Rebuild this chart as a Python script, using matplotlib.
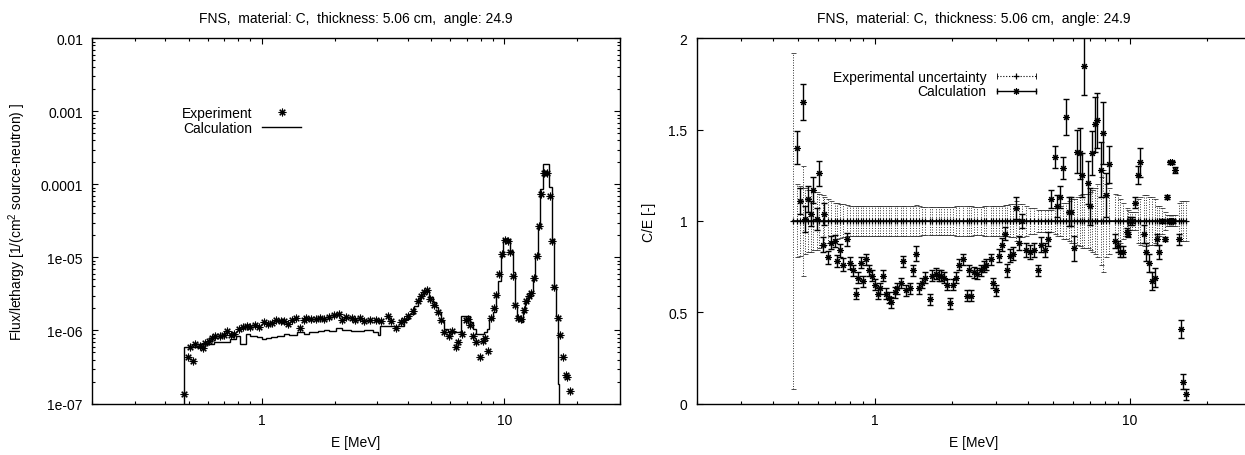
import matplotlib
matplotlib.use("Agg")
import matplotlib.pyplot as plt
import numpy as np
from matplotlib.lines import Line2D
from matplotlib.legend_handler import HandlerLine2D, HandlerTuple
from matplotlib.ticker import FixedLocator, LogLocator, NullFormatter

# ---- data ----
title = "FNS,  material: C,  thickness: 5.06 cm,  angle: 24.9"

# left panel: measured flux/lethargy (asterisks)
exp_e = [0.480, 0.497, 0.505, 0.520, 0.534, 0.556, 0.574, 0.587, 0.605, 0.625,
         0.645, 0.677, 0.699, 0.722, 0.751, 0.773, 0.806, 0.840, 0.873, 0.900,
         0.935, 0.975, 1.02, 1.06, 1.107, 1.15, 1.20, 1.24, 1.28, 1.33,
         1.38, 1.44, 1.49, 1.53, 1.60, 1.67, 1.74, 1.80, 1.90, 1.98,
         2.09, 2.15, 2.22, 2.35, 2.42, 2.55, 2.65, 2.80, 2.95, 3.10,
         3.31, 3.40, 3.58, 3.75, 3.87, 4.03, 4.20, 4.40, 4.54, 4.69,
         4.81, 4.96, 5.15, 5.35, 5.49, 5.67, 5.94, 6.08, 6.34, 6.44,
         6.69, 6.97, 7.12, 7.26, 7.45, 7.66, 7.98, 8.17, 8.34, 8.61,
         8.84, 9.07, 9.27, 9.51, 9.78, 10.1, 10.4, 10.6, 10.9, 11.1,
         11.4, 11.7, 12.1, 12.3, 12.6, 12.9, 13.3, 13.6, 13.9, 14.2,
         14.6, 15.0, 15.4, 15.7, 16.1, 16.6, 17.0, 17.5, 17.9, 18.2, 18.7]
exp_flux = [1.35e-7, 4.3e-7, 6.0e-7, 3.85e-7, 6.5e-7, 6.1e-7, 5.7e-7, 6.7e-7, 7.2e-7, 7.8e-7,
            8.3e-7, 8.5e-7, 8.7e-7, 9.9e-7, 8.7e-7, 9.0e-7, 1.05e-6, 1.10e-6, 1.16e-6, 1.13e-6,
            1.18e-6, 1.13e-6, 1.30e-6, 1.23e-6, 1.27e-6, 1.40e-6, 1.34e-6, 1.36e-6, 1.23e-6, 1.38e-6,
            1.48e-6, 1.07e-6, 1.37e-6, 1.49e-6, 1.45e-6, 1.42e-6, 1.48e-6, 1.42e-6, 1.53e-6, 1.62e-6,
            1.68e-6, 1.40e-6, 1.55e-6, 1.50e-6, 1.38e-6, 1.50e-6, 1.33e-6, 1.38e-6, 1.40e-6, 1.33e-6,
            1.59e-6, 1.33e-6, 1.07e-6, 1.32e-6, 1.37e-6, 1.59e-6, 1.86e-6, 2.55e-6, 3.0e-6, 3.4e-6,
            3.6e-6, 2.7e-6, 2.23e-6, 1.80e-6, 1.37e-6, 9.4e-7, 8.3e-7, 9.7e-7, 6.0e-7, 7.0e-7,
            8.9e-7, 1.41e-6, 1.43e-6, 1.17e-6, 8.4e-7, 6.9e-7, 4.4e-7, 7.2e-7, 7.8e-7, 5.2e-7,
            1.5e-6, 2.0e-6, 3.06e-6, 5.9e-6, 1.1e-5, 1.75e-5, 1.7e-5, 1.2e-5, 5.6e-6, 2.23e-6,
            1.47e-6, 1.45e-6, 1.93e-6, 2.55e-6, 3.0e-6, 3.3e-6, 5.3e-6, 1.05e-5, 2.67e-5, 7.4e-5,
            1.43e-4, 1.43e-4, 7.0e-5, 1.7e-5, 3.9e-6, 1.5e-6, 8.6e-7, 4.4e-7, 2.45e-7, 2.3e-7, 1.5e-7]

# left panel: calculated histogram (bin edges and values)
calc_edges = [0.477, 0.55, 0.635, 0.744, 0.781, 0.814, 0.859, 0.90, 0.96, 1.007,
              1.04, 1.09, 1.16, 1.24, 1.30, 1.40, 1.50, 1.57, 1.70, 1.81,
              1.90, 2.02, 2.15, 2.33, 2.65, 2.87, 3.01, 3.08, 3.87, 4.06,
              4.26, 4.40, 4.51, 4.65, 4.76, 4.91, 5.07, 5.23, 5.35, 5.49,
              5.63, 5.85, 6.43, 6.63, 7.26, 7.41, 7.66, 8.28, 8.50, 8.69,
              8.98, 9.27, 9.47, 9.66, 9.91, 10.52, 10.86, 11.03, 11.29, 11.73,
              11.90, 12.20, 12.50, 12.84, 13.11, 13.39, 13.74, 14.06, 14.38, 15.30,
              15.75, 16.05, 16.40, 16.60, 16.84]
calc_flux = [5.9e-7, 6.5e-7, 6.9e-7, 7.6e-7, 8.3e-7, 6.5e-7, 8.95e-7, 8.3e-7, 8.05e-7, 7.6e-7,
             7.8e-7, 8.05e-7, 8.3e-7, 8.95e-7, 8.6e-7, 9.4e-7, 8.95e-7, 9.6e-7, 9.9e-7, 1.01e-6,
             9.9e-7, 1.07e-6, 1.02e-6, 9.9e-7, 1.02e-6, 9.6e-7, 8.6e-7, 1.16e-6, 1.43e-6, 1.68e-6,
             2.18e-6, 2.55e-6, 2.99e-6, 3.33e-6, 3.5e-6, 2.85e-6, 2.43e-6, 2.07e-6, 1.77e-6, 1.36e-6,
             1.05e-6, 9.4e-7, 9.4e-7, 1.59e-6, 1.29e-6, 1.05e-6, 8.95e-7, 9.4e-7, 1.05e-6, 1.43e-6,
             1.77e-6, 2.99e-6, 4.8e-6, 1.05e-5, 1.79e-5, 1.24e-5, 6.25e-6, 2.18e-6, 1.43e-6, 1.32e-6,
             1.77e-6, 2.43e-6, 2.85e-6, 3.33e-6, 5.1e-6, 1.05e-5, 2.7e-5, 8.6e-5, 1.9e-4, 9.1e-5,
             1.79e-5, 3.9e-6, 1.59e-6, 1.85e-7]

# right panel: C/E ratio, its error, and the experimental uncertainty
ce_e = [0.480, 0.494, 0.509, 0.523, 0.533, 0.548, 0.561, 0.575, 0.592, 0.605,
        0.624, 0.633, 0.656, 0.676, 0.699, 0.714, 0.731, 0.753, 0.777, 0.800,
        0.818, 0.842, 0.863, 0.881, 0.903, 0.927, 0.950, 0.979, 1.000, 1.030,
        1.049, 1.082, 1.105, 1.138, 1.162, 1.199, 1.227, 1.264, 1.291, 1.324,
        1.375, 1.413, 1.457, 1.491, 1.537, 1.575, 1.647, 1.683, 1.734, 1.786,
        1.826, 1.868, 1.915, 1.973, 2.034, 2.083, 2.140, 2.209, 2.290, 2.345,
        2.380, 2.450, 2.520, 2.610, 2.690, 2.730, 2.850, 2.920, 3.000, 3.080,
        3.160, 3.240, 3.290, 3.390, 3.490, 3.570, 3.670, 3.780, 3.910, 4.060,
        4.210, 4.350, 4.480, 4.660, 4.780, 4.930, 5.080, 5.200, 5.320, 5.480,
        5.620, 5.780, 5.900, 6.040, 6.190, 6.360, 6.470, 6.630, 6.830, 6.990,
        7.140, 7.310, 7.460, 7.690, 7.870, 8.060, 8.280, 8.760, 8.960, 9.190,
        9.420, 9.780, 9.850, 10.03, 10.19, 10.47, 10.74, 11.00, 11.35, 11.60,
        11.85, 12.22, 12.50, 12.79, 13.05, 13.42, 13.75, 14.00, 14.20, 14.41,
        14.50, 14.70, 14.80, 15.05, 15.60, 15.90, 16.20, 16.60]
ce = [4.37, 1.40, 1.11, 1.65, 1.01, 1.12, 1.04, 1.17, 1.01, 1.26,
      0.87, 1.04, 0.80, 0.88, 0.89, 0.78, 0.84, 0.76, 0.90, 0.77,
      0.73, 0.60, 0.69, 0.77, 0.67, 0.79, 0.73, 0.70, 0.65, 0.60,
      0.63, 0.70, 0.60, 0.58, 0.555, 0.61, 0.63, 0.66, 0.78, 0.62,
      0.63, 0.73, 0.82, 0.63, 0.66, 0.69, 0.57, 0.70, 0.71, 0.70,
      0.70, 0.69, 0.65, 0.55, 0.65, 0.69, 0.76, 0.79, 0.59, 0.73,
      0.59, 0.72, 0.71, 0.73, 0.75, 0.76, 0.79, 0.66, 0.62, 0.81,
      0.87, 0.93, 0.73, 0.81, 0.82, 1.07, 0.88, 1.00, 0.84, 0.83,
      0.84, 0.73, 0.87, 0.84, 0.90, 1.12, 1.35, 1.08, 1.13, 1.29,
      1.57, 1.05, 1.05, 0.85, 1.38, 1.37, 1.25, 1.85, 1.21, 1.08,
      1.37, 1.53, 1.55, 1.28, 1.48, 1.14, 1.31, 0.89, 0.86, 0.83,
      0.83, 0.94, 0.93, 1.00, 1.00, 1.10, 1.25, 1.32, 0.93, 0.83,
      0.77, 0.67, 0.69, 0.90, 0.83, 1.00, 0.90, 1.13, 1.00, 1.32,
      1.00, 1.32, 1.00, 1.28, 0.90, 0.41, 0.12, 0.05]
ce_err = [0.30, 0.09, 0.07, 0.10, 0.07, 0.07, 0.07, 0.07, 0.06, 0.07,
          0.04, 0.06, 0.035, 0.035, 0.035, 0.035, 0.035, 0.035, 0.035, 0.035,
          0.03, 0.03, 0.03, 0.03, 0.03, 0.03, 0.03, 0.03, 0.03, 0.03,
          0.03, 0.03, 0.03, 0.03, 0.03, 0.03, 0.03, 0.03, 0.03, 0.03,
          0.03, 0.03, 0.04, 0.03, 0.03, 0.03, 0.03, 0.03, 0.03, 0.03,
          0.03, 0.03, 0.03, 0.03, 0.03, 0.03, 0.03, 0.03, 0.03, 0.03,
          0.03, 0.03, 0.03, 0.03, 0.03, 0.03, 0.03, 0.03, 0.03, 0.035,
          0.035, 0.035, 0.035, 0.035, 0.035, 0.06, 0.04, 0.04, 0.04, 0.04,
          0.04, 0.03, 0.04, 0.04, 0.04, 0.05, 0.06, 0.06, 0.06, 0.06,
          0.10, 0.08, 0.08, 0.07, 0.12, 0.14, 0.12, 0.16, 0.12, 0.10,
          0.12, 0.15, 0.15, 0.15, 0.17, 0.12, 0.10, 0.04, 0.03, 0.03,
          0.03, 0.02, 0.02, 0.02, 0.02, 0.03, 0.05, 0.08, 0.05, 0.05,
          0.05, 0.05, 0.05, 0.03, 0.04, 0.01, 0.01, 0.01, 0.01, 0.01,
          0.01, 0.01, 0.01, 0.015, 0.03, 0.05, 0.04, 0.03]
unc = [0.92, 0.20, 0.19, 0.30, 0.18, 0.17, 0.17, 0.16, 0.16, 0.15,
       0.14, 0.13, 0.12, 0.11, 0.10, 0.10, 0.095, 0.09, 0.085, 0.08,
       0.08, 0.08, 0.08, 0.08, 0.08, 0.08, 0.08, 0.08, 0.08, 0.08,
       0.08, 0.08, 0.08, 0.08, 0.08, 0.08, 0.08, 0.08, 0.08, 0.08,
       0.08, 0.08, 0.085, 0.08, 0.075, 0.075, 0.075, 0.075, 0.075, 0.075,
       0.075, 0.075, 0.075, 0.075, 0.075, 0.08, 0.08, 0.08, 0.08, 0.08,
       0.08, 0.075, 0.075, 0.075, 0.08, 0.08, 0.08, 0.08, 0.08, 0.08,
       0.08, 0.085, 0.085, 0.09, 0.09, 0.11, 0.09, 0.09, 0.08, 0.07,
       0.07, 0.06, 0.06, 0.06, 0.06, 0.06, 0.07, 0.08, 0.08, 0.10,
       0.10, 0.11, 0.12, 0.12, 0.13, 0.14, 0.15, 0.15, 0.15, 0.16,
       0.17, 0.18, 0.20, 0.24, 0.28, 0.20, 0.18, 0.15, 0.14, 0.12,
       0.10, 0.07, 0.06, 0.05, 0.05, 0.05, 0.12, 0.13, 0.14, 0.14,
       0.13, 0.13, 0.12, 0.08, 0.08, 0.07, 0.05, 0.03, 0.03, 0.03,
       0.03, 0.03, 0.03, 0.03, 0.10, 0.11, 0.11, 0.11]

e_ticks = [1, 10]
e_tick_labels = ["1", "10"]
flux_ticks = [1e-7, 1e-6, 1e-5, 1e-4, 1e-3, 1e-2]
flux_tick_labels = ["1e-07", "1e-06", "1e-05", "0.0001", "0.001", "0.01"]
ce_ticks = [0, 0.5, 1, 1.5, 2]
ce_tick_labels = ["0", "0.5", "1", "1.5", "2"]

# ---- style ----
plt.rcParams['font.family'] = ['Liberation Sans', 'DejaVu Sans']
plt.rcParams['font.size'] = 10
plt.rcParams['mathtext.fontset'] = 'custom'
plt.rcParams['mathtext.rm'] = 'Liberation Sans'
plt.rcParams['mathtext.default'] = 'rm'

AST = (8, 2, 0)  # gnuplot-like "*" (plus and cross)
W, H = 1245, 456

fig = plt.figure(figsize=(W / 100, H / 100), dpi=100)
ax1 = fig.add_axes([92 / W, (H - 404.5) / H, 528 / W, 365.2 / H])
ax2 = fig.add_axes([696.5 / W, (H - 404.5) / H, 555 / W, 365.2 / H])


def style_axes(ax):
    ax.set_xscale("log")
    ax.set_xlim(0.2, 30)
    ax.xaxis.set_major_locator(FixedLocator(e_ticks))
    ax.set_xticklabels(e_tick_labels)
    ax.xaxis.set_minor_locator(LogLocator(base=10, subs=np.arange(2, 10)))
    ax.xaxis.set_minor_formatter(NullFormatter())
    ax.tick_params(which="both", direction="in", top=True, right=True,
                   width=0.8, colors="black")
    ax.tick_params(which="major", length=4.5)
    ax.tick_params(which="minor", length=2.2)
    ax.tick_params(axis="x", pad=7)
    ax.tick_params(axis="y", pad=6.5)
    for sp in ax.spines.values():
        sp.set_linewidth(1.0)
    ax.set_title(title, fontsize=10, pad=12)
    ax.set_xlabel("E [MeV]")
    ax.xaxis.set_label_coords(0.5, -0.085)


# ---- left: flux per lethargy ----
style_axes(ax1)
ax1.set_yscale("log")
ax1.set_ylim(1e-7, 1e-2)
ax1.yaxis.set_major_locator(FixedLocator(flux_ticks))
ax1.set_yticklabels(flux_tick_labels)
ax1.yaxis.set_minor_locator(LogLocator(base=10, subs=np.arange(2, 10)))
ax1.yaxis.set_minor_formatter(NullFormatter())

ax1.stairs(calc_flux, calc_edges, baseline=1e-12, color="black", lw=1.0)
ax1.plot(exp_e, exp_flux, ls="none", marker=AST, ms=5.5, mew=0.8, color="black")

ax1.set_ylabel("Flux/lethargy [1/(cm$^{2}$ source-neutron) ]")
ax1.yaxis.set_label_coords(-0.122, 0.5)

h_exp = Line2D([], [], ls="none", marker=AST, ms=5.5, mew=0.8, color="black")
h_calc = Line2D([], [], color="black", lw=1.0)
ax1.legend([h_exp, h_calc], ["Experiment", "Calculation"], markerfirst=False,
           frameon=False, loc="upper right", bbox_to_anchor=(0.396, 0.814),
           handlelength=2.8, handletextpad=0.7, labelspacing=0.05,
           borderpad=0, borderaxespad=0, fontsize=10)

# ---- right: C/E ----
style_axes(ax2)
ax2.set_ylim(0, 2)
ax2.yaxis.set_major_locator(FixedLocator(ce_ticks))
ax2.set_yticklabels(ce_tick_labels)

ones = np.ones(len(ce_e))
band = ax2.errorbar(ce_e, ones, yerr=unc, fmt="none", ecolor="#333333",
                    elinewidth=0.7, capsize=1.8, capthick=0.6)
band[2][0].set_linestyle((0, (1, 1.6)))
ax2.plot(ce_e, ones, color="black", lw=1.2, marker="+", ms=5, mew=0.9)

ax2.errorbar(ce_e, ce, yerr=ce_err, fmt="none", ecolor="black",
             elinewidth=1.0, capsize=2.5, capthick=1.0)
ax2.plot(ce_e, ce, ls="none", marker=AST, ms=4.8, mew=0.8, color="black")

ax2.set_ylabel("C/E [-]")
ax2.yaxis.set_label_coords(-0.073, 0.5)

h_unc_bar = Line2D([], [], color="black", ls=(0, (1, 1.6)), lw=0.8,
                   marker="|", ms=4, mew=0.6)
h_unc_pt = Line2D([], [], ls="none", marker="+", ms=5, mew=0.9, color="black")
h_ce_bar = Line2D([], [], color="black", lw=1.0, marker="|", ms=5, mew=1.0)
h_ce_pt = Line2D([], [], ls="none", marker=AST, ms=4.8, mew=0.8, color="black")
ax2.legend([(h_unc_bar, h_unc_pt), (h_ce_bar, h_ce_pt)],
           ["Experimental uncertainty", "Calculation"], markerfirst=False,
           frameon=False, loc="upper right", bbox_to_anchor=(0.612, 0.914),
           handlelength=2.85, handletextpad=0.75, labelspacing=0.05,
           borderpad=0, borderaxespad=0, fontsize=10,
           handler_map={h_unc_bar: HandlerLine2D(numpoints=2, marker_pad=0),
                        h_ce_bar: HandlerLine2D(numpoints=2, marker_pad=0),
                        tuple: HandlerTuple(ndivide=1, pad=0)})

fig.savefig("out.png", dpi=100)
